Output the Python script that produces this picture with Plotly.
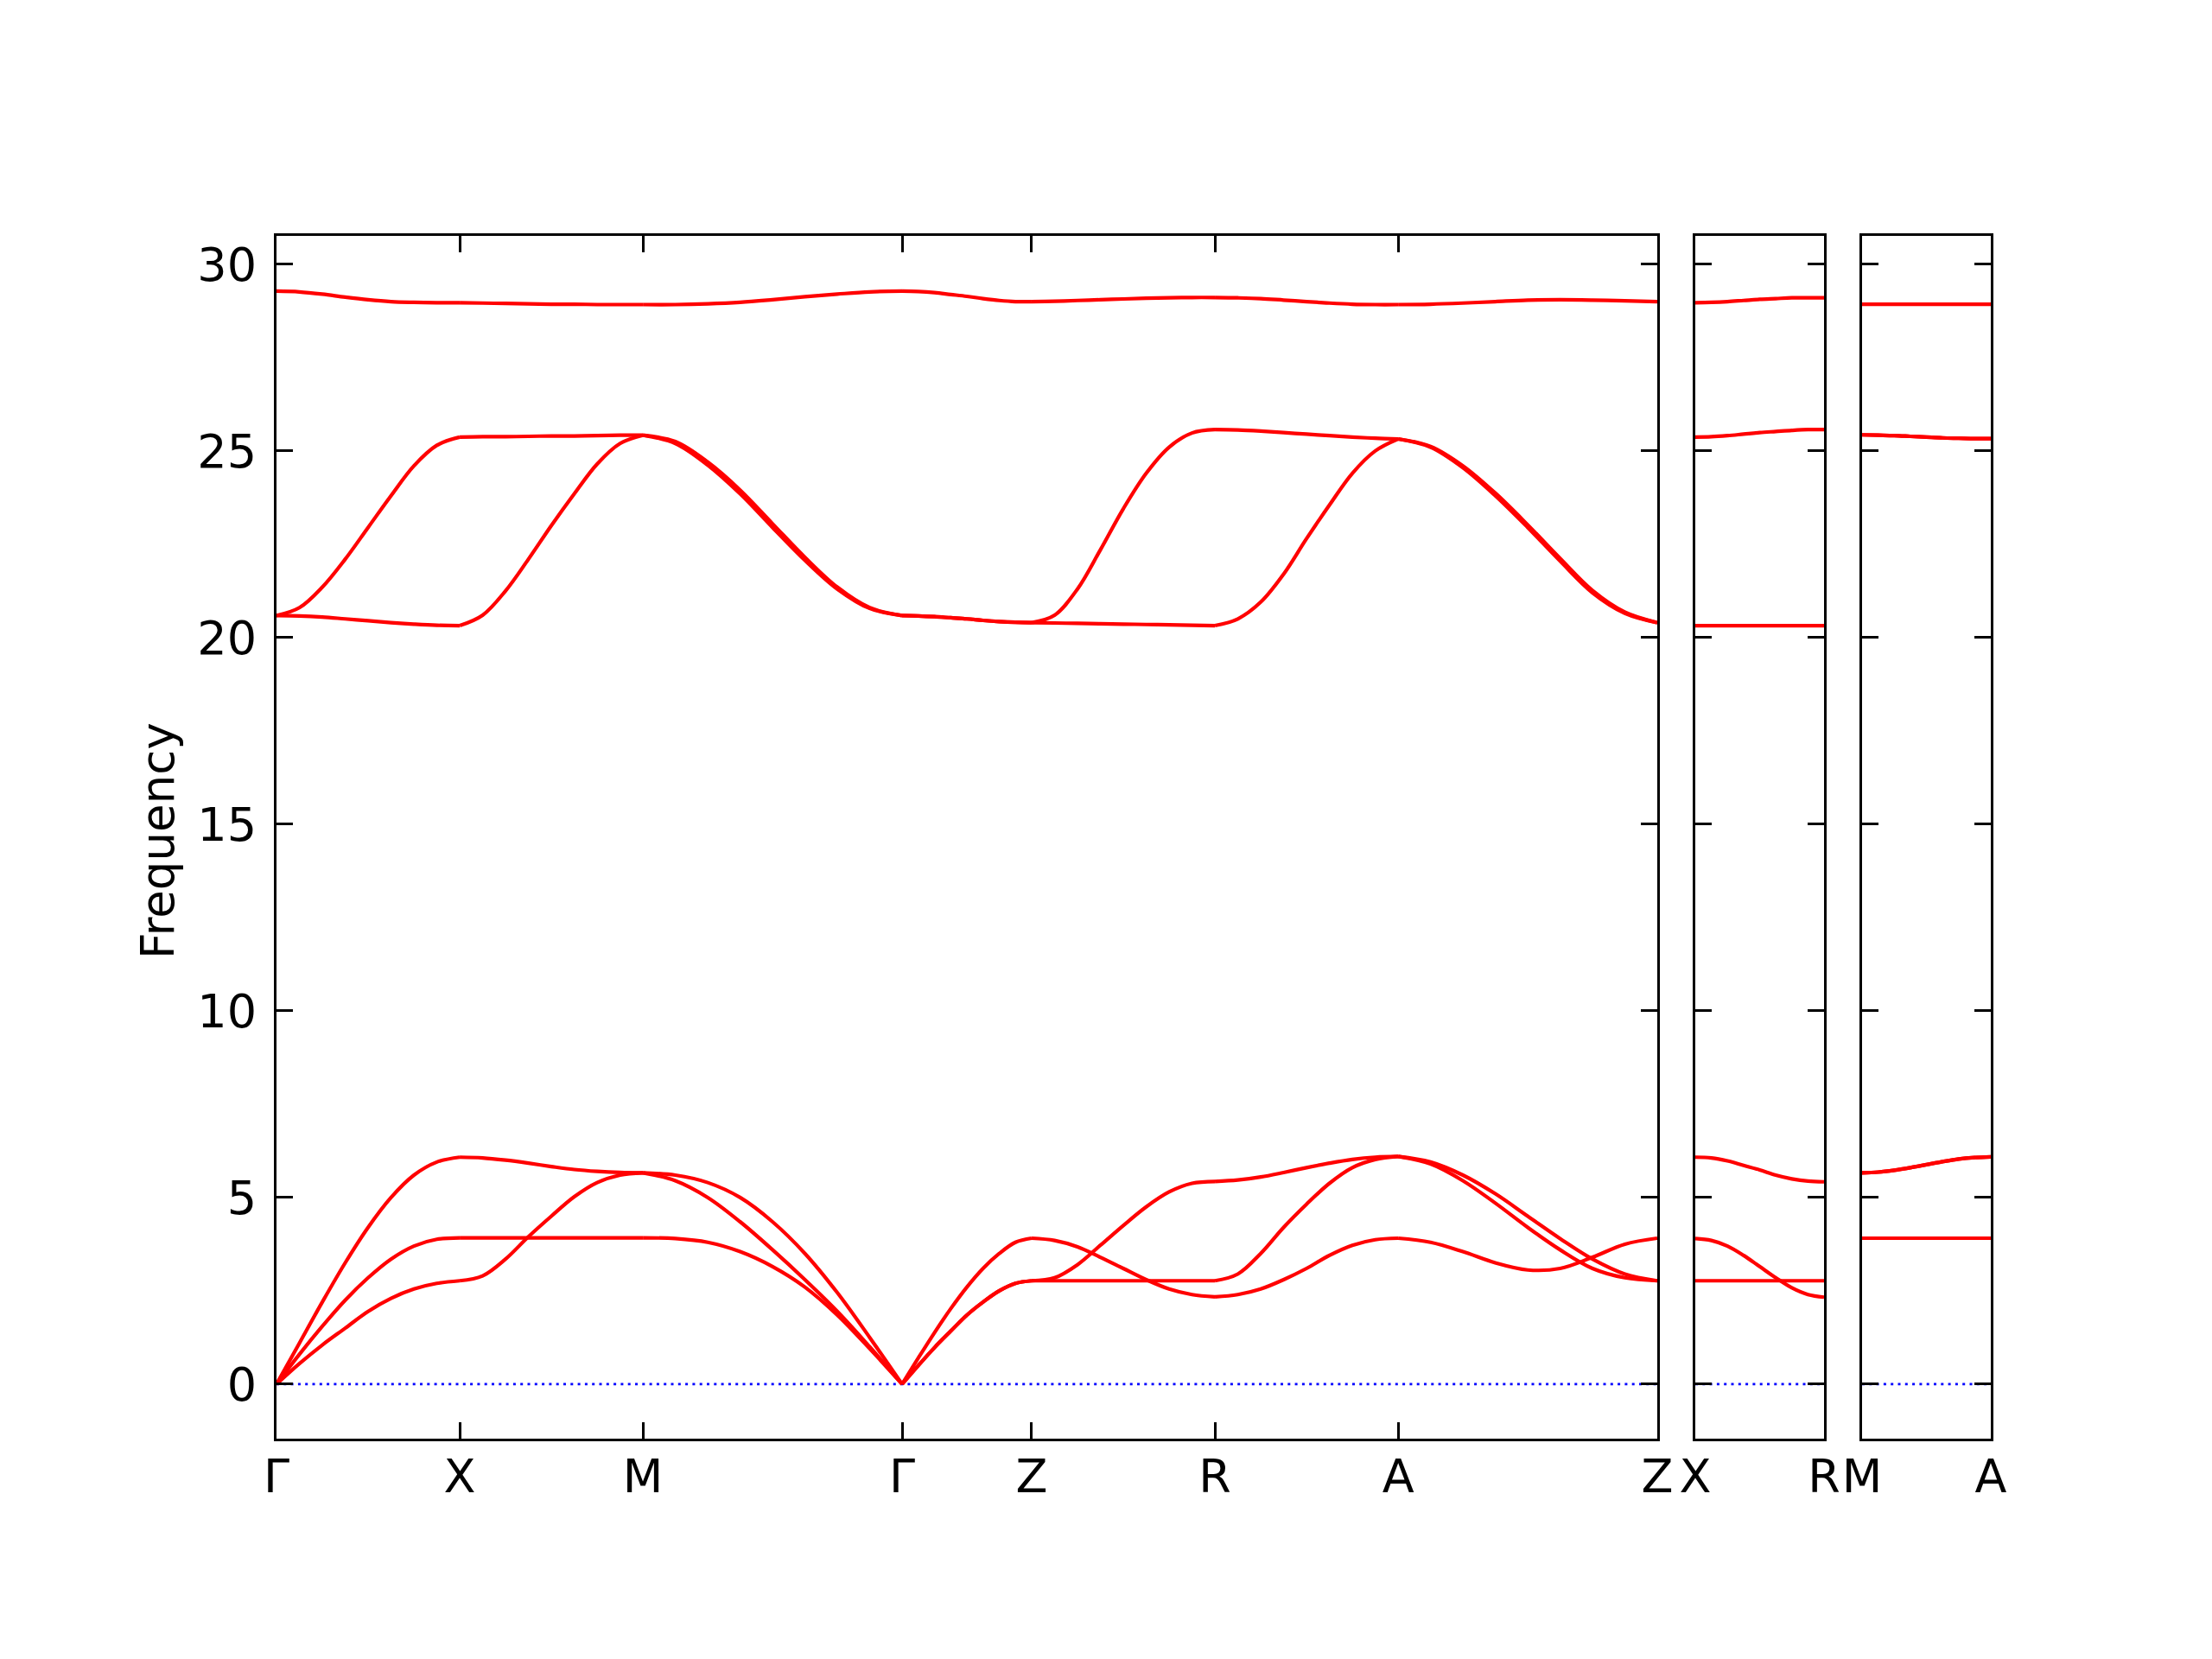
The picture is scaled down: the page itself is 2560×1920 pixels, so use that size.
import math
import plotly.graph_objects as go

# ---------------- data ----------------
t_frac = [0, 0.125, 0.25, 0.375, 0.5, 0.625, 0.75, 0.875, 1.0]

# k-path segment lengths (main panel): Γ-X, X-M, M-Γ, Γ-Z, Z-R, R-A, A-Z
main_seg_lengths = [1.0, 1.0, math.sqrt(2), 0.7071, 1.0, 1.0, math.sqrt(2)]
main_labels = ["Γ", "X", "M", "Γ", "Z", "R", "A", "Z"]
p2_seg_length = 0.7071
p2_labels = ["X", "R"]
p3_seg_length = 0.7071
p3_labels = ["M", "A"]

y_ticks = [0, 5, 10, 15, 20, 25, 30]

seg_GX = [
    [0, 0.55, 1.05, 1.5, 1.95, 2.3, 2.55, 2.7, 2.77],
    [0, 0.8, 1.55, 2.25, 2.85, 3.35, 3.7, 3.88, 3.92],
    [0, 1.1, 2.2, 3.25, 4.2, 5.0, 5.6, 5.95, 6.08],
    [20.59, 20.58, 20.55, 20.5, 20.45, 20.4, 20.36, 20.33, 20.32],
    [20.59, 20.8, 21.35, 22.1, 22.95, 23.8, 24.6, 25.15, 25.37],
    [29.28, 29.26, 29.2, 29.12, 29.05, 29.0, 28.98, 28.97, 28.97],
]
seg_XM = [
    [2.77, 2.9, 3.35, 3.95, 4.5, 5.02, 5.4, 5.6, 5.66],
    [3.92, 3.92, 3.92, 3.92, 3.92, 3.92, 3.92, 3.92, 3.92],
    [6.08, 6.06, 6.0, 5.92, 5.83, 5.75, 5.7, 5.67, 5.66],
    [20.32, 20.6, 21.25, 22.1, 23.0, 23.85, 24.65, 25.2, 25.42],
    [25.37, 25.38, 25.38, 25.39, 25.4, 25.4, 25.41, 25.42, 25.42],
    [28.97, 28.96, 28.95, 28.94, 28.93, 28.93, 28.92, 28.92, 28.92],
]
seg_MG = [
    [3.92, 3.9, 3.8, 3.55, 3.15, 2.6, 1.85, 0.95, 0],
    [5.66, 5.45, 5.0, 4.35, 3.6, 2.8, 1.95, 1.0, 0],
    [5.66, 5.6, 5.4, 5.0, 4.35, 3.5, 2.45, 1.25, 0],
    [25.42, 25.2, 24.62, 23.85, 22.95, 22.07, 21.3, 20.78, 20.59],
    [25.42, 25.25, 24.7, 23.95, 23.05, 22.15, 21.35, 20.8, 20.59],
    [28.92, 28.92, 28.94, 28.98, 29.05, 29.13, 29.2, 29.26, 29.28],
]
seg_GZ = [
    [0, 0.5, 0.98, 1.42, 1.85, 2.2, 2.5, 2.7, 2.77],
    [0, 0.5, 0.98, 1.42, 1.85, 2.2, 2.5, 2.7, 2.77],
    [0, 0.7, 1.38, 2.02, 2.6, 3.1, 3.5, 3.8, 3.91],
    [20.59, 20.58, 20.56, 20.53, 20.5, 20.46, 20.43, 20.41, 20.4],
    [20.59, 20.58, 20.56, 20.53, 20.5, 20.46, 20.43, 20.41, 20.4],
    [29.28, 29.27, 29.24, 29.19, 29.14, 29.08, 29.03, 29.0, 29.0],
]
seg_ZR = [
    [3.91, 3.85, 3.68, 3.4, 3.1, 2.8, 2.55, 2.4, 2.34],
    [2.77, 2.77, 2.77, 2.77, 2.77, 2.77, 2.77, 2.77, 2.77],
    [2.77, 2.85, 3.2, 3.72, 4.25, 4.75, 5.15, 5.38, 5.43],
    [20.4, 20.39, 20.38, 20.37, 20.36, 20.35, 20.34, 20.33, 20.32],
    [20.4, 20.6, 21.3, 22.35, 23.45, 24.4, 25.1, 25.48, 25.57],
    [29.0, 29.01, 29.03, 29.05, 29.07, 29.09, 29.1, 29.11, 29.11],
]
seg_RA = [
    [2.34, 2.4, 2.55, 2.8, 3.1, 3.45, 3.72, 3.87, 3.91],
    [2.77, 2.95, 3.5, 4.2, 4.82, 5.38, 5.8, 6.02, 6.1],
    [5.43, 5.47, 5.55, 5.67, 5.8, 5.92, 6.02, 6.08, 6.1],
    [20.32, 20.5, 20.95, 21.7, 22.65, 23.55, 24.4, 25.0, 25.32],
    [25.57, 25.56, 25.53, 25.49, 25.45, 25.41, 25.37, 25.34, 25.32],
    [29.11, 29.1, 29.08, 29.04, 29.0, 28.96, 28.93, 28.92, 28.92],
]
seg_AZ = [
    [3.91, 3.8, 3.55, 3.25, 3.06, 3.1, 3.4, 3.75, 3.91],
    [6.1, 5.9, 5.45, 4.85, 4.2, 3.6, 3.1, 2.85, 2.77],
    [6.1, 5.95, 5.6, 5.1, 4.5, 3.9, 3.35, 2.95, 2.77],
    [25.32, 25.1, 24.55, 23.8, 22.95, 22.05, 21.2, 20.65, 20.4],
    [25.32, 25.12, 24.6, 23.87, 23.02, 22.12, 21.26, 20.68, 20.4],
    [28.92, 28.93, 28.96, 29.0, 29.04, 29.05, 29.04, 29.02, 29.0],
]
seg_XR = [
    [2.77, 2.77, 2.77, 2.77, 2.77, 2.77, 2.77, 2.77, 2.77],
    [3.9, 3.85, 3.7, 3.45, 3.15, 2.85, 2.58, 2.4, 2.33],
    [6.08, 6.06, 5.98, 5.86, 5.74, 5.6, 5.5, 5.44, 5.42],
    [20.32, 20.32, 20.32, 20.32, 20.32, 20.32, 20.32, 20.32, 20.32],
    [25.37, 25.38, 25.41, 25.45, 25.49, 25.52, 25.55, 25.57, 25.57],
    [28.97, 28.98, 29.0, 29.03, 29.06, 29.08, 29.1, 29.1, 29.1],
]
seg_MA = [
    [3.91, 3.91, 3.91, 3.91, 3.91, 3.91, 3.91, 3.91, 3.91],
    [5.66, 5.68, 5.73, 5.8, 5.88, 5.96, 6.03, 6.07, 6.09],
    [5.66, 5.68, 5.73, 5.8, 5.88, 5.96, 6.03, 6.07, 6.09],
    [25.43, 25.42, 25.41, 25.39, 25.37, 25.35, 25.34, 25.33, 25.33],
    [25.43, 25.42, 25.41, 25.39, 25.37, 25.35, 25.34, 25.33, 25.33],
    [28.93, 28.93, 28.93, 28.93, 28.93, 28.93, 28.93, 28.93, 28.93],
]

main_segments = [seg_GX, seg_XM, seg_MG, seg_GZ, seg_ZR, seg_RA, seg_AZ]

# ---------------- figure ----------------
W, H = 2560, 1920
OFF = 8  # page offset of the plot div inside the browser page
FONT = "DejaVu Sans"
BAND_COLOR = "#ff0000"
BAND_W = 4.2

fig = go.Figure()


def add_zero(xa, ya, xmax):
    fig.add_trace(go.Scatter(
        x=[0, xmax], y=[0, 0], mode="lines",
        line=dict(color="#0000ff", width=2.6, dash="3px,5.3px"),
        xaxis=xa, yaxis=ya, showlegend=False, hoverinfo="skip"))


def add_segment(xa, ya, x0, length, bands):
    xs = [x0 + length * t for t in t_frac]
    for b in bands:
        fig.add_trace(go.Scatter(
            x=xs, y=b, mode="lines",
            line=dict(color=BAND_COLOR, width=BAND_W, shape="spline", smoothing=1.0),
            xaxis=xa, yaxis=ya, showlegend=False, hoverinfo="skip"))


main_ticks = [0.0]
for L in main_seg_lengths:
    main_ticks.append(main_ticks[-1] + L)
main_total = main_ticks[-1]

add_zero("x", "y", main_total)
add_zero("x2", "y2", p2_seg_length)
add_zero("x3", "y3", p3_seg_length)

for i, seg in enumerate(main_segments):
    add_segment("x", "y", main_ticks[i], main_seg_lengths[i], seg)
add_segment("x2", "y2", 0.0, p2_seg_length, seg_XR)
add_segment("x3", "y3", 0.0, p3_seg_length, seg_MA)


def px_x(p):
    return (p - OFF) / W


def px_y(p):
    return 1 - (p - OFF) / H


y_dom = [px_y(1665), px_y(273)]
y_range = [-1.46, 30.76]

common_axis = dict(
    showline=True, linewidth=3.4, linecolor="black", mirror="allticks",
    ticks="inside", ticklen=19, tickwidth=3.4, tickcolor="black",
    showgrid=False, zeroline=False, automargin=False,
    tickfont=dict(family=FONT, size=54, color="black"),
)

fig.update_layout(
    width=W, height=H,
    margin=dict(l=0, r=0, t=0, b=0, autoexpand=False),
    paper_bgcolor="white", plot_bgcolor="white",
    xaxis=dict(domain=[px_x(320), px_x(1918)], range=[0, main_total],
               tickvals=main_ticks, ticktext=main_labels, anchor="y",
               ticklabelstandoff=-6, **common_axis),
    xaxis2=dict(domain=[px_x(1962), px_x(2111)], range=[0, p2_seg_length],
                tickvals=[0, p2_seg_length], ticktext=p2_labels, anchor="y2",
                ticklabelstandoff=-6, **common_axis),
    xaxis3=dict(domain=[px_x(2155), px_x(2304)], range=[0, p3_seg_length],
                tickvals=[0, p3_seg_length], ticktext=p3_labels, anchor="y3",
                ticklabelstandoff=-6, **common_axis),
    yaxis=dict(domain=y_dom, range=y_range, tickvals=y_ticks,
               ticktext=[str(v) for v in y_ticks], anchor="x",
               ticklabelstandoff=9, **common_axis),
    yaxis2=dict(domain=y_dom, range=y_range, tickvals=y_ticks,
                showticklabels=False, anchor="x2", **common_axis),
    yaxis3=dict(domain=y_dom, range=y_range, tickvals=y_ticks,
                showticklabels=False, anchor="x3", **common_axis),
    annotations=[dict(
        text="Frequency", x=px_x(183), y=px_y(973), xref="paper", yref="paper",
        textangle=-90, showarrow=False, xanchor="center", yanchor="middle",
        font=dict(family=FONT, size=53, color="black"))],
)

fig.write_html("out.html")
